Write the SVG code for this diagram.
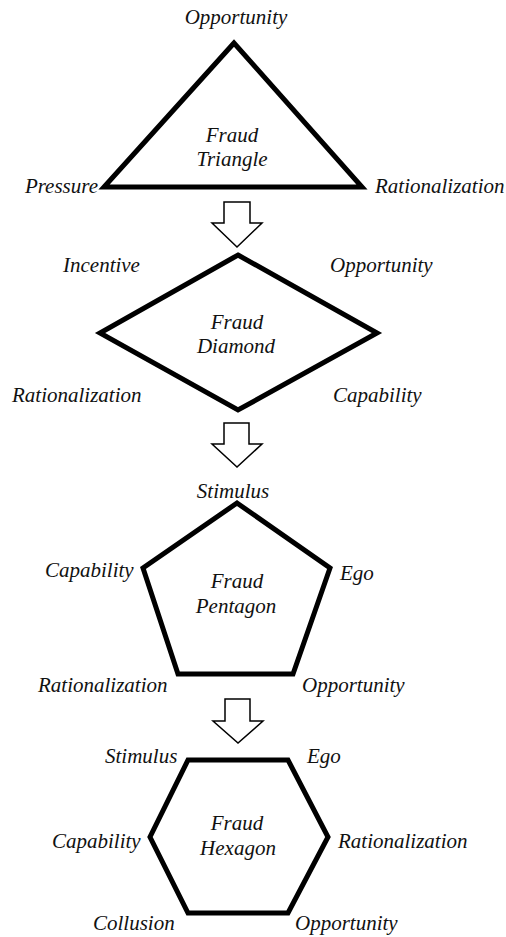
<svg xmlns="http://www.w3.org/2000/svg" width="506" height="937" viewBox="0 0 506 937">
<style>
.shape{fill:none;stroke:#000;stroke-width:5;stroke-linejoin:miter}
.arrow{fill:#fff;stroke:#000;stroke-width:1.5;stroke-linejoin:miter}
text{font-family:"Liberation Serif","Times New Roman",serif;font-style:italic;font-size:21px;fill:#111}
.c{text-anchor:middle}
.e{text-anchor:end}
</style>
<rect width="506" height="937" fill="#fff"/>
<g id="triangle">
<polygon class="shape" points="234,43 104,187 362,187"/>
<text class="c" x="236" y="24">Opportunity</text>
<text class="c" x="232" y="142">Fraud</text>
<text class="c" x="232" y="166">Triangle</text>
<text class="e" x="98" y="193">Pressure</text>
<text x="375" y="193">Rationalization</text>
</g>
<g id="diamond">
<polygon class="shape" points="238,255 377,333 238,410 100,333"/>
<text x="63" y="272">Incentive</text>
<text x="330" y="272">Opportunity</text>
<text class="c" x="237" y="329">Fraud</text>
<text class="c" x="236" y="353">Diamond</text>
<text x="12" y="402">Rationalization</text>
<text x="333" y="402">Capability</text>
</g>
<g id="pentagon">
<polygon class="shape" points="237,503 330,568 293,674 178,674 143,568"/>
<text class="c" x="233" y="498">Stimulus</text>
<text x="45" y="577">Capability</text>
<text x="340" y="580">Ego</text>
<text class="c" x="237" y="588">Fraud</text>
<text class="c" x="236" y="613">Pentagon</text>
<text x="38" y="692">Rationalization</text>
<text x="302" y="692">Opportunity</text>
</g>
<g id="hexagon">
<polygon class="shape" points="188,760 288,760 328,837 288,913 188,913 150,837"/>
<text x="105" y="763">Stimulus</text>
<text x="307" y="763">Ego</text>
<text class="c" x="237" y="830">Fraud</text>
<text class="c" x="238" y="855">Hexagon</text>
<text x="52" y="848">Capability</text>
<text x="338" y="848">Rationalization</text>
<text x="93" y="930">Collusion</text>
<text x="295" y="930">Opportunity</text>
</g>
<g id="connectors">
<polygon class="arrow" points="224,202 250,202 250,223 262,223 237,247 212,223 224,223"/>
<polygon class="arrow" points="224,423 249,423 249,444 262,444 237,467 212,444 224,444"/>
<polygon class="arrow" points="225,699 250,699 250,721 263,721 238,743 213,721 225,721"/>
</g>
</svg>
